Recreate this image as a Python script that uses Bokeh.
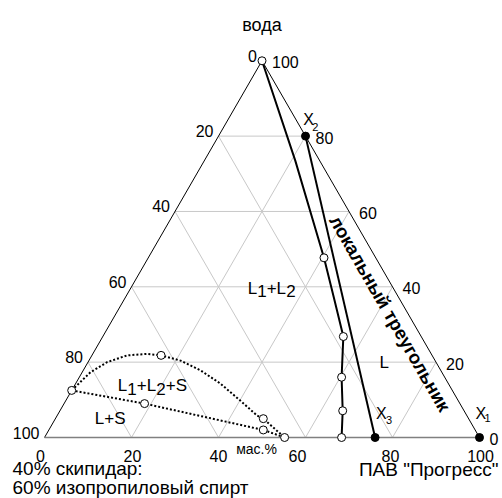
import numpy as np
from bokeh.plotting import figure
from bokeh.models import Range1d
from bokeh.core.properties import value
from bokeh.embed import file_html
from bokeh.resources import INLINE

# ---- data (ternary compositions: a = ПАВ "Прогресс" %, b = вода %) ----
grid_levels = [20, 40, 60, 80]
tick_values = [0, 20, 40, 60, 80, 100]
left_tick_labels = ["0", "20", "40", "60", "80", "100"]     # mixture content
right_tick_labels = ["100", "80", "60", "40", "20", "0"]    # water content
bottom_tick_labels = ["0", "20", "40", "60", "80", "100"]   # surfactant content

# solubility (L / L1+L2) boundary
sol_a = [0.0, 20.9, 40.4, 47.9, 55.3, 60.3, 65.0, 68.3]
sol_b = [100.0, 73.5, 47.7, 37.2, 26.8, 16.0, 7.1, 0.0]
sol_pt_a = [0.0, 40.4, 55.3, 60.3, 65.0, 68.3]
sol_pt_b = [100.0, 47.7, 26.8, 16.0, 7.1, 0.0]

# tie line X2 - X3 and points X1, X2, X3
tie_a = [20.0, 76.0]
tie_b = [80.0, 0.0]
x_pts_a = [100.0, 20.0, 76.0]
x_pts_b = [0.0, 80.0, 0.0]

# upper dotted curve (L1+L2+S boundary)
up_a = [0.0, 1.9, 4.4, 8.1, 12.5, 15.9, 21.1, 27.0, 33.3, 40.1, 46.0, 47.8, 55.2]
up_b = [12.5, 17.3, 20.0, 21.8, 22.2, 21.8, 20.4, 17.8, 14.3, 9.8, 5.8, 5.0, 0.0]
# lower dotted curve (L+S boundary)
lo_a = [0.0, 18.5, 49.3, 55.2]
lo_b = [12.5, 9.0, 2.0, 0.0]
dot_pt_a = [0.0, 15.9, 47.8, 18.5, 49.3, 55.2]
dot_pt_b = [12.5, 21.8, 5.0, 9.0, 2.0, 0.0]

S3 = np.sqrt(3) / 2


def tx(a, b):
    return np.asarray(a, float) + np.asarray(b, float) / 2


def ty(a, b):
    return np.asarray(b, float) * S3


FONT = value("Liberation Sans")

W, H = 502, 498
sc = 4.35
x0 = -44 / sc
y0 = -(H - 437) / sc
p = figure(width=W, height=H, output_backend="svg", toolbar_location=None,
           x_range=Range1d(x0, x0 + W / sc), y_range=Range1d(y0, y0 + H / sc),
           min_border=0, outline_line_color=None)
p.axis.visible = False
p.grid.visible = False
p.background_fill_color = "white"
p.border_fill_color = "white"

# grid
gxs, gys = [], []
for g in grid_levels:
    gxs.append(list(tx([0, 100 - g], [g, g]))); gys.append(list(ty([0, 100 - g], [g, g])))
    gxs.append(list(tx([g, g], [0, 100 - g]))); gys.append(list(ty([g, g], [0, 100 - g])))
    gxs.append(list(tx([0, 100 - g], [100 - g, 0]))); gys.append(list(ty([0, 100 - g], [100 - g, 0])))
p.multi_line(gxs, gys, line_color="#c8c8c8", line_width=1)

# triangle edges
p.line(tx([0, 0], [0, 100]), ty([0, 0], [0, 100]), line_color="black", line_width=1)
p.line(tx([0, 100], [100, 0]), ty([0, 100], [100, 0]), line_color="black", line_width=1)
p.line(tx([0, 100], [0, 0]), ty([0, 100], [0, 0]), line_color="#808080", line_width=1.5)

# curves
p.line(tx(sol_a, sol_b), ty(sol_a, sol_b), line_color="black", line_width=2)
p.line(tx(tie_a, tie_b), ty(tie_a, tie_b), line_color="black", line_width=2)
p.line(tx(up_a, up_b), ty(up_a, up_b), line_color="black", line_width=2, line_dash="2 2")
p.line(tx(lo_a, lo_b), ty(lo_a, lo_b), line_color="black", line_width=2, line_dash="2 2")

p.scatter(tx(sol_pt_a, sol_pt_b), ty(sol_pt_a, sol_pt_b), size=8, fill_color="white",
          line_color="black", line_width=1)
p.scatter(tx(dot_pt_a, dot_pt_b), ty(dot_pt_a, dot_pt_b), size=8, fill_color="white",
          line_color="black", line_width=1)
p.scatter(tx(x_pts_a, x_pts_b), ty(x_pts_a, x_pts_b), size=8, fill_color="black",
          line_color="black")

# tick labels
tv = np.array(tick_values, float)
p.text(tx(np.zeros(6), 100 - tv), ty(np.zeros(6), 100 - tv), text=left_tick_labels,
       text_align="right", text_baseline="middle", x_offset=-5, y_offset=-5,
       text_font=FONT, text_font_size="16px", text_color="black")
p.text(tx(tv, 100 - tv), ty(tv, 100 - tv), text=right_tick_labels,
       text_align="left", text_baseline="middle", x_offset=10, y_offset=1.5,
       text_font=FONT, text_font_size="16px", text_color="black")
p.text(tx(tv, np.zeros(6)), ty(tv, np.zeros(6)), text=bottom_tick_labels,
       text_align="center", text_baseline="middle", x_offset=[-4, 1, 0, -8, -2, 1], y_offset=18,
       text_font=FONT, text_font_size="16px", text_color="black")


def txt(a, b, s, size="17px", align="left", baseline="middle", dx=0, dy=0, style="normal", angle=0):
    p.text([float(tx(a, b))], [float(ty(a, b))], text=[s], text_align=align,
           text_baseline=baseline, x_offset=dx, y_offset=dy, angle=angle,
           text_font=FONT, text_font_size=size, text_font_style=style, text_color="black")


# titles
txt(0, 100, "вода", size="18px", align="center", dy=-36)
txt(100, 0, "ПАВ \"Прогресс\"", size="19px", align="right", dx=19, dy=32)
txt(0, 0, "40% скипидар:", size="19px", dx=-32, dy=31)
txt(0, 0, "60% изопропиловый спирт", size="19px", dx=-32, dy=50)
txt(50, 0, "мас.%", size="14px", align="center", dx=-5.5, dy=11)


def sub_label(a, b, parts):
    for s, dx, dy, fs in parts:
        txt(a, b, s, size=fs, dx=dx, dy=dy)


sub_label(26.9, 39.6, [("L", 0, 0, "17px"), ("1", 9.5, 3, "17px"), ("+L", 19, 0, "17px"),
                        ("2", 38.5, 3, "17px")])
sub_label(9.95, 13.8, [("L", 0, 0, "17px"), ("1", 9.5, 3, "17px"), ("+L", 19, 0, "17px"),
                        ("2", 38.5, 3, "17px"), ("+S", 48, 0, "17px")])
sub_label(8.97, 5.17, [("L+S", 0, 0, "17px")])
sub_label(67.05, 19.9, [("L", 0, 0, "17px")])
sub_label(20, 80, [("X", -2.3, -16.6, "16px"), ("2", 6.7, -9.6, "11px")])
sub_label(76, 0, [("X", 1, -24, "16px"), ("3", 11, -18, "11px")])
sub_label(100, 0, [("X", -4, -24.5, "16px"), ("1", 5, -20, "11px")])

txt(63.0, 32.9, "локальный треугольник", size="18.5px", align="center", style="bold",
    angle=-np.pi / 3)

open("out.html", "w").write(file_html(p, INLINE))
